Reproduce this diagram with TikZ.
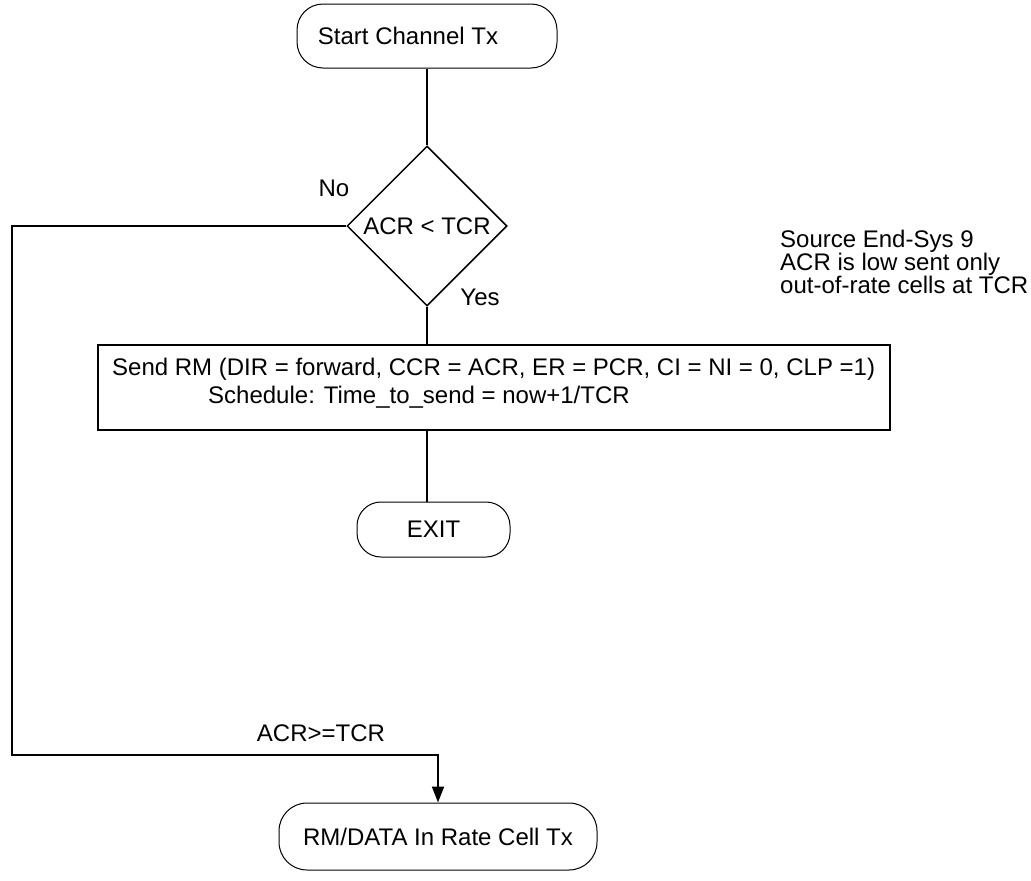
\documentclass[tikz,border=0pt]{standalone}
\usepackage{fontspec}
\setmainfont{Liberation Sans}
\usetikzlibrary{shapes.geometric,arrows.meta}
\begin{document}
\begin{tikzpicture}[x=1pt,y=-1pt,
  font=\fontsize{24}{26}\selectfont,
  term/.style={draw, line width=1pt, rectangle, rounded corners=26pt, inner sep=0pt},
  decision/.style={draw, line width=1.5pt, diamond, aspect=1, inner sep=0pt, minimum width=160pt, minimum height=160pt},
  procbox/.style={draw, line width=2pt, rectangle, inner sep=0pt},
  conn/.style={line width=2pt},
  lbl/.style={inner sep=0pt}]
\useasboundingbox (0,0) rectangle (1031,881);
\node[term, minimum width=260pt, minimum height=64pt] (start) at (427,36) {Start Channel Tx\kern38pt};
\node[decision] (dec) at (427,226) {ACR < TCR};
\node[procbox, minimum width=792pt, minimum height=85pt] (box) at (494,387) {};
\node[lbl, anchor=west] (l1) at (112,369.5) {Send RM (DIR = forward, CCR = ACR, ER = PCR, CI = NI = 0, CLP =1)};
\node[lbl, anchor=west] (l2) at (208,397) {Schedule: Time\_to\_send = now+1/TCR};
\node[term, minimum width=153pt, minimum height=55pt, rounded corners=24pt] (exit) at (433.5,529.5) {EXIT};
\node[term, minimum width=318pt, minimum height=67pt, rounded corners=28pt] (bot) at (438,836.5) {RM/DATA In Rate Cell Tx};
\node[lbl] (no) at (334,188) {No};
\node[lbl] (yes) at (480,297) {Yes};
\node[lbl] (ge) at (321,733) {ACR>=TCR};
\node[lbl, anchor=west, align=left, font=\fontsize{24}{19}\selectfont] (note) at (780,262) {Source End-Sys 9\\ACR is low sent only\\out-of-rate cells at TCR};
\coordinate (c1) at (12,226);
\coordinate (c2) at (12,755);
\draw[conn] (start) -- (dec);
\draw[conn] (dec.south) -- (dec.south |- box.north);
\draw[conn] (box.south -| dec.south) -- (exit.north -| dec.south);
\draw[conn, -{Triangle[length=16pt,width=12pt]}] (dec.west) -- (c1) -- (c2) -| (bot.north);
\end{tikzpicture}
\end{document}
